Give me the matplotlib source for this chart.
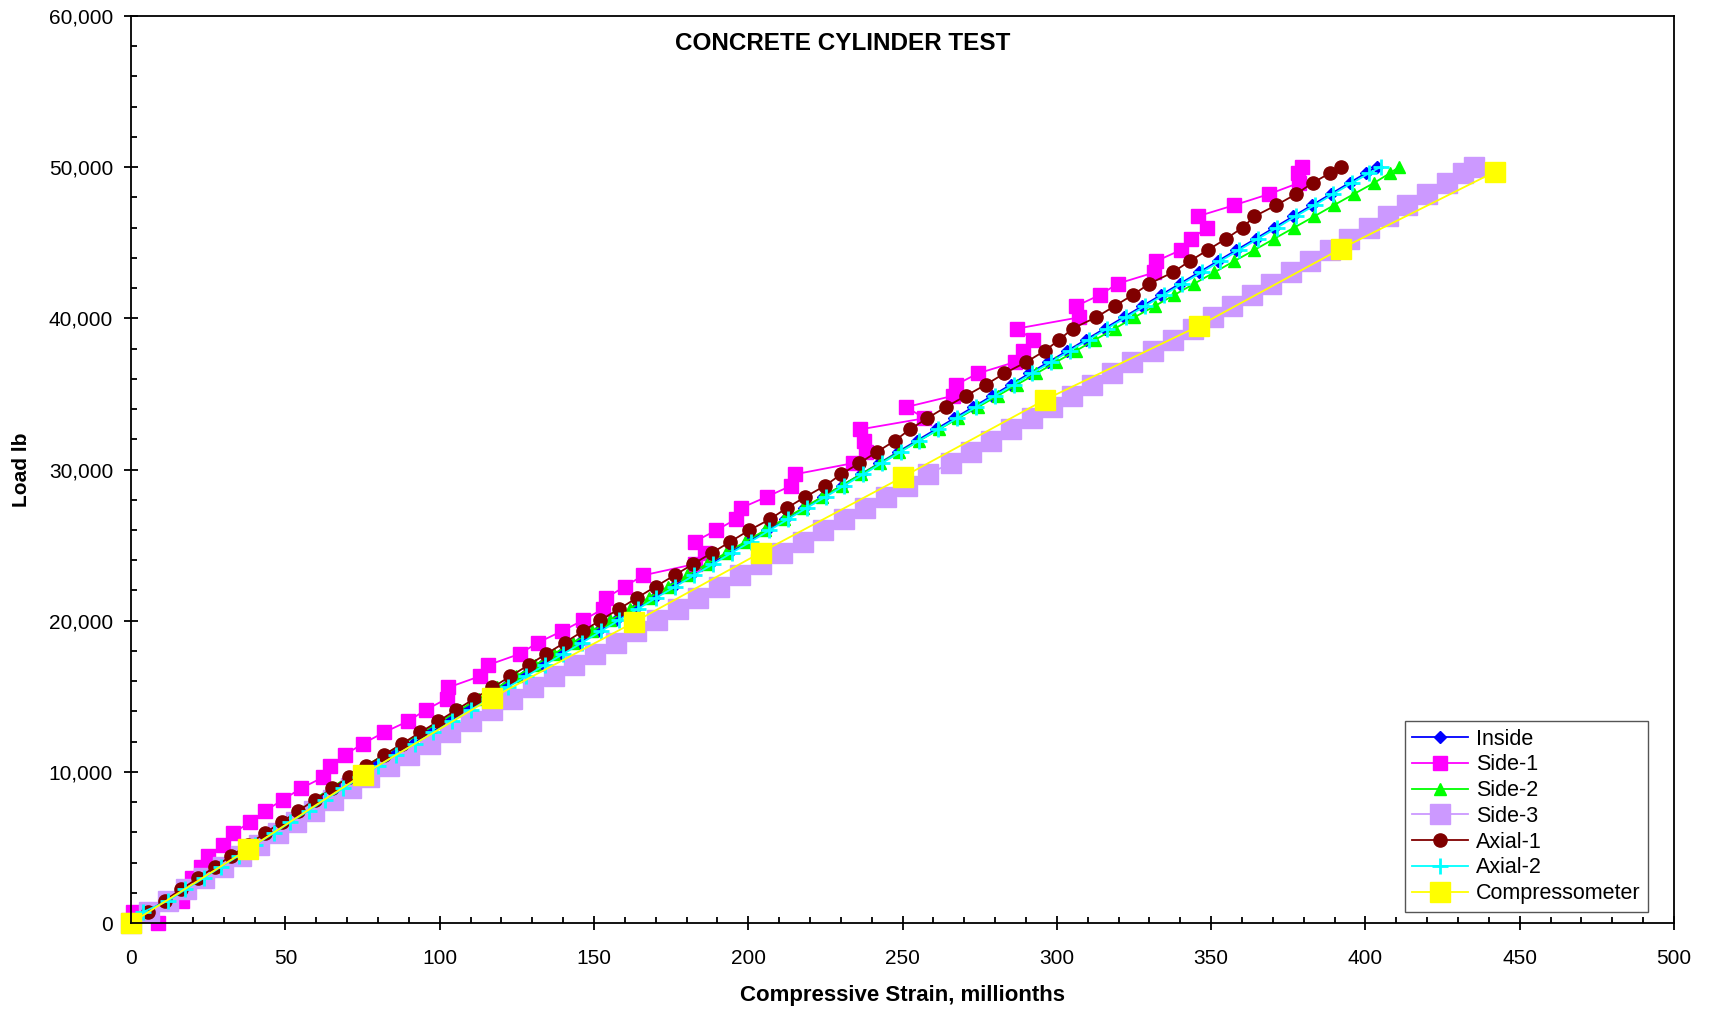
import matplotlib
matplotlib.use("Agg")
import matplotlib.pyplot as plt
from matplotlib.ticker import MultipleLocator, FuncFormatter

plt.rcParams['font.family'] = ['Liberation Sans', 'DejaVu Sans']

# load readings, lb (shared by the strain gauges)
load = [0, 742, 1484, 2226, 2968, 3710, 4452, 5194, 5936, 6678,
        7420, 8162, 8904, 9646, 10388, 11130, 11872, 12614, 13356, 14098,
        14840, 15582, 16324, 17066, 17808, 18550, 19292, 20034, 20776, 21518,
        22260, 23002, 23744, 24486, 25228, 25970, 26712, 27454, 28196, 28938,
        29680, 30422, 31164, 31906, 32648, 33390, 34132, 34874, 35616, 36358,
        37100, 37842, 38584, 39326, 40068, 40810, 41552, 42294, 43036, 43778,
        44520, 45262, 46004, 46746, 47488, 48230, 48972, 49600, 50030]

# compressive strain, millionths
inside = [0, 5.6, 11.3, 16.9, 22.6, 28.2, 33.8, 39.5, 45.1, 50.8,
          56.4, 62.0, 67.7, 73.3, 79.1, 85.2, 91.2, 97.2, 103.2, 109.2,
          115.2, 121.2, 127.2, 133.2, 139.2, 145.3, 151.3, 157.3, 163.4, 169.4,
          175.5, 181.6, 187.7, 193.8, 199.9, 206.0, 212.0, 218.1, 224.2, 230.3,
          236.4, 242.5, 248.5, 254.6, 260.7, 266.8, 272.9, 279.0, 285.1, 291.1,
          297.2, 303.3, 309.4, 315.5, 321.6, 327.7, 333.8, 339.9, 346.0, 352.1,
          358.2, 364.4, 370.5, 376.6, 382.7, 388.8, 394.9, 400.1, 403.6]

side1 = [8.8, 0.7, 16.4, 17.5, 19.8, 22.6, 25.0, 29.8, 33.1, 38.5,
         43.4, 49.3, 55.0, 62.3, 64.4, 69.3, 75.2, 82.0, 89.8, 95.5,
         102.3, 102.8, 113.0, 115.7, 126.0, 131.8, 139.5, 146.5, 152.9, 154.0,
         160.0, 166.0, 182.6, 186.0, 182.6, 189.5, 196.0, 197.7, 206.0, 214.0,
         215.0, 234.0, 238.0, 237.5, 236.1, 257.1, 251.2, 266.3, 267.4, 274.4,
         286.3, 289.0, 292.2, 287.2, 307.3, 306.2, 314.0, 319.7, 331.6, 332.1,
         340.2, 343.5, 348.8, 345.6, 357.5, 368.9, 378.6, 378.0, 379.6]

side2 = [0, 5.3, 10.8, 16.1, 21.6, 26.9, 32.3, 37.7, 43.1, 48.5,
         53.9, 59.2, 64.7, 70.1, 75.9, 82.1, 88.2, 94.3, 100.4, 106.5,
         112.6, 118.7, 124.8, 130.9, 137.0, 143.2, 149.3, 155.3, 161.6, 167.7,
         174.0, 180.3, 186.5, 192.8, 199.1, 205.3, 211.5, 217.8, 224.0, 230.3,
         236.5, 242.8, 249.0, 255.4, 261.7, 268.1, 274.4, 280.8, 287.1, 293.4,
         299.7, 306.1, 312.4, 318.8, 325.1, 331.7, 338.1, 344.5, 351.0, 357.4,
         364.0, 370.4, 376.9, 383.4, 389.8, 396.3, 402.9, 407.9, 411.0]

side3 = [0, 5.9, 11.9, 17.8, 23.7, 29.7, 35.6, 41.6, 47.5, 53.4,
         59.4, 65.3, 71.2, 77.2, 83.5, 90.2, 96.8, 103.5, 110.2, 116.9,
         123.6, 130.2, 136.9, 143.6, 150.3, 157.0, 163.6, 170.3, 177.1, 183.8,
         190.6, 197.3, 204.1, 210.8, 217.6, 224.3, 231.1, 237.8, 244.6, 251.3,
         258.1, 265.7, 272.2, 278.8, 285.3, 291.8, 298.4, 304.9, 311.4, 318.0,
         324.5, 331.0, 337.5, 344.1, 350.6, 356.9, 363.2, 369.5, 375.8, 382.1,
         388.4, 394.7, 401.0, 407.3, 413.6, 420.0, 426.3, 431.6, 435.3]

axial1 = [0, 5.4, 10.9, 16.2, 21.7, 27.1, 32.5, 38.0, 43.3, 48.8,
          54.2, 59.6, 65.1, 70.5, 76.1, 82.0, 87.9, 93.7, 99.6, 105.4,
          111.2, 117.1, 122.9, 128.8, 134.6, 140.5, 146.3, 152.1, 158.1, 164.0,
          170.0, 176.1, 182.1, 188.2, 194.2, 200.2, 207.0, 212.5, 218.5, 225.0,
          230.0, 236.0, 241.7, 247.5, 252.3, 258.0, 264.0, 270.5, 277.0, 283.0,
          290.0, 296.0, 300.8, 305.1, 312.7, 318.7, 324.6, 330.0, 337.5, 343.0,
          348.9, 354.8, 360.2, 364.0, 371.1, 377.6, 383.0, 388.4, 392.1]

axial2 = [0, 4.0, 12.1, 17.6, 23.5, 29.0, 34.9, 40.3, 46.2, 51.6,
          57.5, 62.9, 68.8, 74.2, 80.1, 86.0, 92.1, 98.0, 104.1, 110.0,
          116.1, 122.0, 128.1, 134.0, 140.1, 146.2, 152.2, 158.1, 164.3, 170.2,
          176.4, 182.4, 188.6, 194.6, 200.8, 206.8, 212.9, 218.9, 225.1, 231.1,
          237.3, 243.3, 249.4, 255.4, 261.6, 267.6, 273.8, 279.8, 286.0, 291.9,
          298.1, 304.1, 310.3, 316.3, 322.5, 328.5, 334.7, 340.7, 346.9, 352.9,
          359.1, 365.2, 371.4, 377.4, 383.6, 389.6, 395.8, 401.2, 405.0]

comp_load = [0, 4900, 9800, 14900, 19900, 24500, 29500, 34600, 39500, 44600, 49700]
comp_strain = [0, 38, 75, 117, 163, 204, 250, 296, 346, 392, 442]

fig = plt.figure(figsize=(17.11, 10.13), dpi=100)
ax = fig.add_axes([0.0766, 0.0888, 0.9018, 0.8954])

ax.plot(inside, load, color='#0000FF', lw=1.3, marker='D', ms=6.5, label='Inside', clip_on=False)
ax.plot(side1, load, color='#FF00FF', lw=1.3, marker='s', ms=9.5, label='Side-1', clip_on=False)
ax.plot(side2, load, color='#00FF00', lw=1.3, marker='^', ms=9, label='Side-2', clip_on=False)
ax.plot(side3, load, color='#CC99FF', lw=1.3, marker='s', ms=14, label='Side-3', clip_on=False)
ax.plot(axial1, load, color='#800000', lw=1.3, marker='o', ms=9.5, label='Axial-1', clip_on=False)
ax.plot(axial2, load, color='#00FFFF', lw=1.3, marker='+', ms=11, mew=2, label='Axial-2', clip_on=False)
ax.plot(comp_strain, comp_load, color='#FFFF00', lw=1.3, marker='s', ms=14,
        label='Compressometer', clip_on=False)

ax.set_xlim(0, 500)
ax.set_ylim(0, 60000)
ax.xaxis.set_major_locator(MultipleLocator(50))
ax.xaxis.set_minor_locator(MultipleLocator(10))
ax.yaxis.set_major_locator(MultipleLocator(10000))
ax.yaxis.set_minor_locator(MultipleLocator(2000))
ax.yaxis.set_major_formatter(FuncFormatter(lambda v, p: f'{int(v):,}'))
ax.tick_params(which='major', direction='inout', length=10, width=1.3, labelsize=15)
ax.tick_params(axis='x', which='major', pad=14)
ax.tick_params(axis='y', which='major', pad=8)
ax.tick_params(which='minor', direction='in', length=4, width=1.3)
for s in ax.spines.values():
    s.set_linewidth(1.3)

ax.text(0.461, 0.982, 'CONCRETE CYLINDER TEST', transform=ax.transAxes,
        ha='center', va='top', fontsize=17.5, fontweight='bold')
ax.set_xlabel('Compressive Strain, millionths', fontsize=16, fontweight='bold', labelpad=12)
ax.set_ylabel('Load lb', fontsize=15, fontweight='bold', labelpad=13)

leg = ax.legend(loc='lower right', bbox_to_anchor=(0.983, 0.0125), fontsize=15.5,
                fancybox=False, framealpha=1, edgecolor='#555555', borderpad=0.35,
                labelspacing=0.22, handlelength=2.6, handletextpad=0.35, borderaxespad=0)
leg.get_frame().set_linewidth(1.0)

fig.savefig('out.png', dpi=100)
